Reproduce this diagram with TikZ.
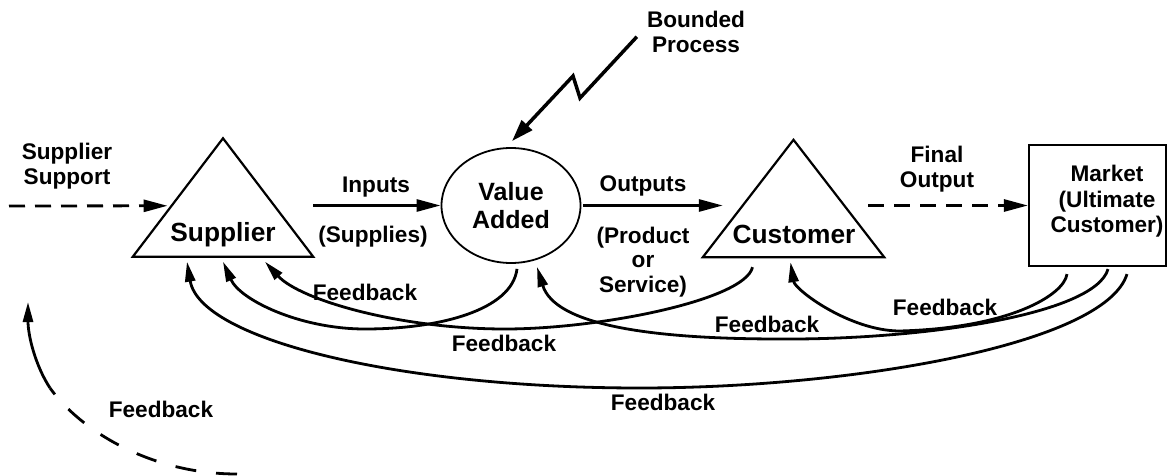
\documentclass[tikz,border=0pt]{standalone}
\usepackage{fontspec}
\setmainfont{Liberation Sans}
\usetikzlibrary{arrows.meta,calc,shapes.geometric}

\begin{document}
\begin{tikzpicture}[x=1pt,y=-1pt,
  lbl/.style={font=\bfseries\fontsize{22.6}{24.5}\selectfont, inner sep=0pt, align=center},
  biglbl/.style={font=\bfseries\fontsize{26.3}{29}\selectfont, inner sep=0pt},
  outline/.style={line width=2.2pt, line join=miter},
  tribox/.style={inner sep=0pt, minimum width=180pt, minimum height=118pt},
  flow/.style={line width=2.8pt, -{Triangle[length=24pt,width=12pt]}},
  dflow/.style={flow, dash pattern=on 16pt off 10pt},
  fb/.style={line width=2.8pt, -{Triangle[length=20pt,width=10pt]}},
  fbdash/.style={line width=2.8pt, dash pattern=on 21pt off 20pt},
  bolt/.style={line width=3.5pt, line join=miter, -{Triangle[length=22pt,width=14pt]}}]

  \useasboundingbox (0,0) rectangle (1170,476);
  \fill[white] (0,0) rectangle (1170,476);

  % --- process blocks ---
  \node[tribox] (sup) at (223,197.5) {};
  \draw[outline] (sup.south west) -- (sup.north) -- (sup.south east) -- cycle;
  \node[biglbl, anchor=base] (suplbl) at (223,241) {Supplier};

  \node[draw, ellipse, line width=1.8pt, minimum width=139pt, minimum height=115pt,
        inner sep=0pt, align=center, font=\bfseries\fontsize{25}{28.5}\selectfont]
        (va) at (511,205.5) {Value\\Added};

  \node[tribox, minimum width=181pt, minimum height=117pt] (cust) at (793.5,198.5) {};
  \draw[outline] (cust.south west) -- (cust.north) -- (cust.south east) -- cycle;
  \node[biglbl, anchor=base] (custlbl) at (794,243) {Customer};

  \node[draw, outline, inner sep=0pt, minimum width=137pt, minimum height=121pt]
        (mkt) at (1097.5,205.5) {};
  \node[lbl, font=\bfseries\fontsize{22.6}{25.5}\selectfont] (mktlbl) at (1107,201.6)
        {Market\\(Ultimate\\Customer)};

  % --- flow labels ---
  \node[lbl] (sslbl) at (67,166) {Supplier\\Support};
  \node[lbl, anchor=base] (inlbl) at (376,192) {Inputs};
  \node[lbl, anchor=base] (supplies) at (373,242) {(Supplies)};
  \node[lbl, anchor=base] (outlbl) at (643,191) {Outputs};
  \node[lbl] (prodlbl) at (643,262) {(Product\\or\\Service)};
  \node[lbl] (folbl) at (937,169) {Final\\Output};
  \node[lbl] (bp) at (696,31.75) {Bounded\\Process};

  % --- forward flow ---
  \coordinate (ssstart) at (9,206);
  \draw[dflow] (ssstart) -- ($(sup.south west)!0.43!(sup.north)+(-4,0)$);
  \draw[flow] (sup.south east |- va.west) -- (va.west);
  \draw[flow] ($(va.east)+(2,0)$) -- ($(cust.south west |- va.east)+(20,0)$);
  \draw[dflow] ($(cust.south east |- va.east)+(-16,0)$) -- (mkt.west);

  % --- boundary marker ---
  \draw[bolt] ($(bp.west)+(-10,5)$) -- (580,98) -- (573,76) -- ($(va.north)+(1,-6)$);

  % --- feedback loops ---
  \draw[fb] ($(va.south)+(6,5)$) .. controls (512,310) and (440,329) .. (365,329)
            .. controls (300,329) and (240,300) .. ($(sup.south)+(0,5)$);
  \draw[fb] ($(cust.south)+(-41,10)$) .. controls (745,300) and (600,329) .. (505,329)
            .. controls (400,329) and (300,300) .. ($(sup.south)+(42,5)$);
  \draw[fb] ($(mkt.south)+(10.5,2)$) .. controls (1095,315) and (920,340) .. (780,339)
            .. controls (650,339) and (555,325) .. ($(va.south)+(26,3)$);
  \draw[fb] ($(mkt.south)+(-30.5,7)$) .. controls (1064,295) and (1010,328) .. (900,331)
            .. controls (850,331) and (795,290) .. ($(cust.south)+(-3,5)$);
  \draw[fb] ($(mkt.south)+(29.5,7)$) .. controls (1105,345) and (850,388) .. (640,388)
            .. controls (400,388) and (200,340) .. ($(sup.south)+(-36,5)$);

  \coordinate (fbfar) at (237,474);
  \coordinate (fbbend) at (50,388);
  \coordinate (fbtip) at (28,302);
  \draw[fbdash] (fbfar) .. controls (150,474) and (80,430) .. (fbbend);
  \draw[fb] (fbbend) .. controls (35,365) and (28,335) .. (fbtip);

  % --- feedback labels ---
  \node[lbl, anchor=base] (fb1) at (365,300) {Feedback};
  \node[lbl, anchor=base] (fb2) at (504,351) {Feedback};
  \node[lbl, anchor=base] (fb3) at (767,332) {Feedback};
  \node[lbl, anchor=base] (fb4) at (945,315) {Feedback};
  \node[lbl, anchor=base] (fb5) at (663,410) {Feedback};
  \node[lbl, anchor=base] (fb6) at (161,417) {Feedback};
\end{tikzpicture}
\end{document}
